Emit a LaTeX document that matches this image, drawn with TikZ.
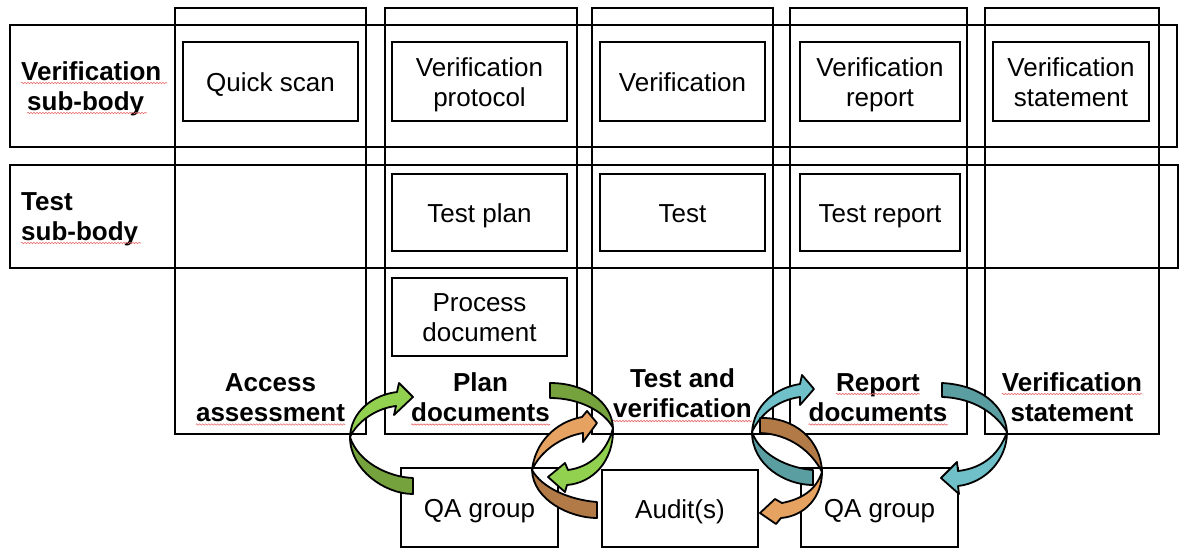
\documentclass[tikz,border=0pt]{standalone}
\usepackage{fontspec}
\setmainfont{Liberation Sans}
\usetikzlibrary{decorations.pathmorphing}
\definecolor{grL}{HTML}{92D050}
\definecolor{grD}{HTML}{76A23E}
\definecolor{orL}{HTML}{E6A260}
\definecolor{orD}{HTML}{B27A46}
\definecolor{tlL}{HTML}{6FC0C8}
\definecolor{tlD}{HTML}{5A9EA2}
\definecolor{squ}{HTML}{E86A6A}
\begin{document}
\begin{tikzpicture}[x=1pt,y=-1pt,
  frame/.style={draw=black, line width=2.4pt},
  box/.style={draw=black, line width=2.4pt, inner sep=0pt, fill=white},
  lbl/.style={font=\fontsize{26}{30}\selectfont, inner sep=0pt, anchor=base},
  hdr/.style={font=\fontsize{26}{30}\selectfont\bfseries, inner sep=0pt, anchor=base},
  hdrw/.style={hdr, anchor=base west},
  arr/.style={draw=black, line width=1.8pt, line join=round},
  squig/.style={draw=squ, line width=0.6pt, decorate, decoration={snake, amplitude=0.7pt, segment length=3pt}}
]
\useasboundingbox (0,0) rectangle (1187,549);
% row bands and columns
\draw[frame] (10,25) rectangle (1177,147);
\draw[frame] (10,165) rectangle (1178,268);
\draw[frame] (175,8) rectangle (366,434);
\draw[frame] (385,8) rectangle (577,434);
\draw[frame] (592,8) rectangle (773,434);
\draw[frame] (790,8) rectangle (967,434);
\draw[frame] (985,8) rectangle (1159,434);
% inner boxes
\node[box, minimum width=175pt, minimum height=79pt] (qs)  at (270.5,81.5) {};
\node[box, minimum width=175pt, minimum height=79pt] (vp)  at (479.5,81.5) {};
\node[box, minimum width=165pt, minimum height=79pt] (ver) at (682.5,81.5) {};
\node[box, minimum width=160pt, minimum height=79pt] (vr)  at (880,81.5) {};
\node[box, minimum width=156pt, minimum height=79pt] (vs)  at (1071,81.5) {};
\node[box, minimum width=175pt, minimum height=77pt] (tp)  at (479.5,212.5) {};
\node[box, minimum width=165pt, minimum height=77pt] (tst) at (682.5,212.5) {};
\node[box, minimum width=160pt, minimum height=77pt] (tr)  at (880,212.5) {};
\node[box, minimum width=175pt, minimum height=78pt] (pd)  at (479.5,317) {};
\node[box, minimum width=157pt, minimum height=79pt] (qa1) at (479.5,507.5) {};
\node[box, minimum width=156pt, minimum height=77pt] (aud) at (680,508.5) {};
\node[box, minimum width=157pt, minimum height=79pt] (qa2) at (879.5,507.5) {};
% box texts
\node[lbl] (qsT) at (270.5,91) {Quick scan};
\node[lbl] (vpT1) at (479.5,76.5) {Verification};
\node[lbl] (vpT2) at (479.5,106.5) {protocol};
\node[lbl] (verT) at (682.5,91) {Verification};
\node[lbl] (vrT1) at (880,76.5) {Verification};
\node[lbl] (vrT2) at (880,106.5) {report};
\node[lbl] (vsT1) at (1071,76.5) {Verification};
\node[lbl] (vsT2) at (1071,106.5) {statement};
\node[lbl] (tpT) at (479.5,222) {Test plan};
\node[lbl] (tstT) at (682.5,222) {Test};
\node[lbl] (trT) at (880,222) {Test report};
\node[lbl] (pdT1) at (479.5,311.5) {Process};
\node[lbl] (pdT2) at (479.5,341.5) {document};
\node[lbl] (qa1T) at (479.5,517) {QA group};
\node[lbl] (audT) at (680,518) {Audit(s)};
\node[lbl] (qa2T) at (879.5,517) {QA group};
% row headers
\node[hdrw] (h1a) at (21,80) {Verification};
\node[hdrw] (h1b) at (27,110) {sub-body};
\node[hdrw] (h2a) at (21,210) {Test};
\node[hdrw] (h2b) at (21,240) {sub-body};
% arrows
% A green left
\filldraw[arr, fill=grD] (350,437) .. controls (350,470) and (385,494) .. (413,494) -- (413,478) .. controls (388,477) and (358,462) .. (350,437) -- cycle;
\filldraw[arr, fill=grL] (350,437) .. controls (351,412) and (372,395) .. (397,392) -- (399,383) -- (413,397) -- (394,415) -- (396,406) .. controls (378,408) and (358,420) .. (350,437) -- cycle;
% B dark, C orange, B light
\filldraw[arr, fill=grD] (550,383) .. controls (585,383) and (612,402) .. (613,428) .. controls (605,412) and (580,398) .. (550,398) -- cycle;
\filldraw[arr, fill=orD] (532,470) .. controls (533,500) and (570,518) .. (597,518) -- (597,502) .. controls (570,500) and (542,488) .. (532,470) -- cycle;
\filldraw[arr, fill=orL] (532,470) .. controls (535,443) and (555,422) .. (582,417) -- (587,411) -- (597,423) -- (583,442) -- (583,433) .. controls (560,437) and (540,452) .. (532,470) -- cycle;
\filldraw[arr, fill=grL] (613,428) .. controls (614,462) and (592,483) .. (567,485) -- (565,492) -- (548,477) -- (565,463) -- (568,470) .. controls (590,467) and (607,452) .. (613,428) -- cycle;
% D teal left
\filldraw[arr, fill=tlD] (752,432) .. controls (752,465) and (785,485) .. (813,485) -- (813,470) .. controls (788,468) and (760,455) .. (752,432) -- cycle;
\filldraw[arr, fill=tlL] (752,432) .. controls (754,405) and (775,388) .. (800,384) -- (802,375) -- (814,389) -- (800,405) -- (800,397) .. controls (778,400) and (760,414) .. (752,432) -- cycle;
% E orange
\filldraw[arr, fill=orD] (760,418) .. controls (795,417) and (821,440) .. (822,472) .. controls (812,452) and (790,434) .. (760,433) -- cycle;
\filldraw[arr, fill=orL] (822,472) .. controls (822,497) and (805,516) .. (781,518) -- (776,524) -- (760,513) -- (775,499) -- (782,503) .. controls (802,499) and (816,490) .. (822,472) -- cycle;
% F teal right
\filldraw[arr, fill=tlD] (942,383) .. controls (980,385) and (1005,405) .. (1007,432) .. controls (997,415) and (975,398) .. (942,397) -- cycle;
\filldraw[arr, fill=tlL] (1007,432) .. controls (1007,460) and (985,483) .. (958,486) -- (959,494) -- (941,478) -- (957,462) -- (958,471) .. controls (985,468) and (1000,452) .. (1007,432) -- cycle;
% column labels
\node[hdr] (c1a) at (270.5,391) {Access};
\node[hdr] (c1b) at (270.5,421) {assessment};
\node[hdr] (c2a) at (480.5,391) {Plan};
\node[hdr] (c2b) at (480.5,421) {documents};
\node[hdr] (c3a) at (682.5,387) {Test and};
\node[hdr] (c3b) at (682.5,417) {verification};
\node[hdr] (c4a) at (878,391) {Report};
\node[hdr] (c4b) at (878,421) {documents};
\node[hdr] (c5a) at (1072,391) {Verification};
\node[hdr] (c5b) at (1072,421) {statement};
% spell-check squiggles
\draw[squig] (h1a.base west) ++(0,3) -- ++(146,0);
\draw[squig] (h1b.base west) ++(0,3) -- ++(120,0);
\draw[squig] (h2b.base west) ++(0,3) -- ++(120,0);
\draw[squig] (c1b.base west) ++(0,3.5) -- (c1b.base east |- 0,424.5);
\draw[squig] (c2b.base west) ++(0,3.5) -- (c2b.base east |- 0,424.5);
\draw[squig] (c3b.base west) ++(0,4) -- (c3b.base east |- 0,421);
\draw[squig] (c4a.base west) ++(0,3) -- (c4a.base east |- 0,394);
\draw[squig] (c4b.base west) ++(0,3.5) -- (c4b.base east |- 0,424.5);
\draw[squig] (c5a.base west) ++(0,3) -- (c5a.base east |- 0,394);
\end{tikzpicture}
\end{document}
